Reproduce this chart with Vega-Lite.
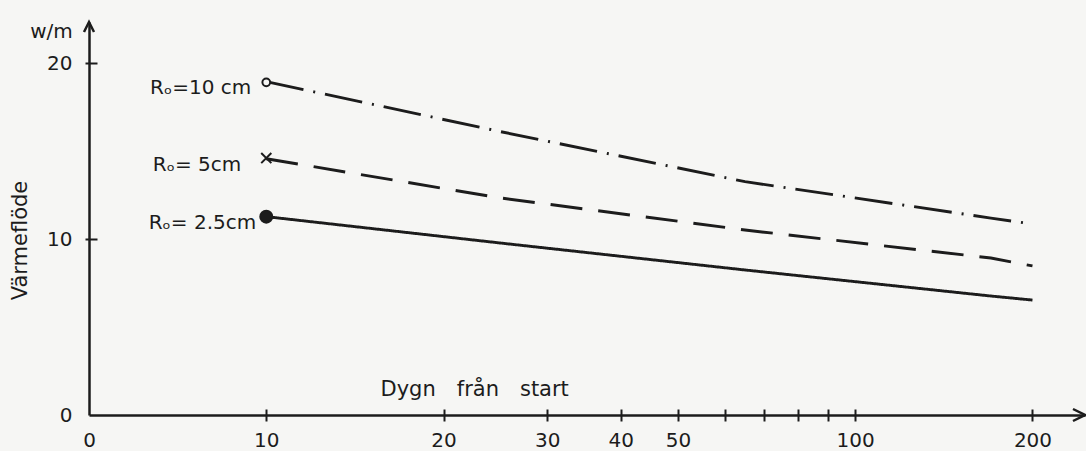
{
  "$schema": "https://vega.github.io/schema/vega-lite/v6.json",
  "width": 996,
  "height": 393,
  "autosize": {"type": "none"},
  "padding": {"left": 89, "top": 22, "right": 1, "bottom": 36},
  "background": "#f6f6f4",
  "config": {
    "view": {"stroke": null},
    "font": "DejaVu Sans",
    "axis": {
      "labelFont": "DejaVu Sans",
      "titleFont": "DejaVu Sans",
      "labelFontSize": 20,
      "titleFontSize": 20,
      "titleFontWeight": "normal",
      "labelColor": "#1c1c1c",
      "titleColor": "#1c1c1c",
      "domainColor": "#1c1c1c",
      "tickColor": "#1c1c1c",
      "grid": false,
      "labelFlush": false,
      "labelOverlap": false
    }
  },
  "datasets": {
    "curves": [
      {"serie": "10 cm", "t": 10, "v": 18.94},
      {"serie": "10 cm", "t": 25, "v": 16.1},
      {"serie": "10 cm", "t": 65, "v": 13.26},
      {"serie": "10 cm", "t": 170, "v": 11.19},
      {"serie": "10 cm", "t": 200, "v": 10.85},
      {"serie": "5 cm", "t": 10, "v": 14.56},
      {"serie": "5 cm", "t": 25, "v": 12.33},
      {"serie": "5 cm", "t": 65, "v": 10.51},
      {"serie": "5 cm", "t": 170, "v": 8.92},
      {"serie": "5 cm", "t": 200, "v": 8.47},
      {"serie": "2.5 cm", "t": 10, "v": 11.27},
      {"serie": "2.5 cm", "t": 25, "v": 9.77},
      {"serie": "2.5 cm", "t": 65, "v": 8.24},
      {"serie": "2.5 cm", "t": 170, "v": 6.76},
      {"serie": "2.5 cm", "t": 200, "v": 6.53}
    ],
    "markers": [
      {"serie": "10 cm", "t": 10, "v": 18.9, "label": "Rₒ=10 cm"},
      {"serie": "5 cm", "t": 10, "v": 14.6, "label": "Rₒ= 5cm"},
      {"serie": "2.5 cm", "t": 10, "v": 11.27, "label": "Rₒ= 2.5cm"}
    ],
    "tips": [
      {"t": 245.6, "v": 0, "dir": "x"},
      {"t": 5, "v": 22.33, "dir": "y"}
    ]
  },
  "resolve": {"axis": {"x": "independent", "y": "independent"}},
  "layer": [
    {
      "data": {"name": "curves"},
      "mark": {"type": "line", "color": "#1c1c1c", "strokeWidth": 2.9, "strokeCap": "butt"},
      "encoding": {
        "x": {
          "field": "t", "type": "quantitative",
          "scale": {"type": "log", "domain": [5, 245.6], "nice": false},
          "axis": {"orient": "bottom", "domain": true, "domainWidth": 2.5, "ticks": false, "labels": false, "title": null}
        },
        "y": {
          "field": "v", "type": "quantitative",
          "scale": {"domain": [0, 22.33], "nice": false, "zero": false},
          "axis": {
            "orient": "left", "domain": true, "domainWidth": 2.5, "ticks": false, "labels": false,
            "title": "Värmeflöde", "titleX": -69, "titleY": 218, "titleAngle": -90,
            "titleAlign": "center", "titleBaseline": "middle", "titleFontSize": 21
          }
        },
        "strokeDash": {
          "field": "serie", "type": "nominal",
          "scale": {"domain": ["10 cm", "5 cm", "2.5 cm"], "range": [[38, 10, 2, 10], [32, 16], [1, 0]]},
          "legend": null
        }
      }
    },
    {
      "data": {"name": "markers"},
      "mark": {"type": "point", "stroke": "#1c1c1c", "strokeWidth": 2, "opacity": 1},
      "encoding": {
        "x": {
          "field": "t", "type": "quantitative",
          "scale": {"type": "log", "domain": [5, 245.6], "nice": false},
          "axis": {
            "orient": "bottom", "offset": -6, "domain": false,
            "values": [5, 10, 20, 30, 40, 50, 60, 70, 80, 90, 100, 200],
            "ticks": true, "tickSize": 12, "tickWidth": 2,
            "tickOpacity": {"condition": {"test": "datum.value == 5", "value": 0}, "value": 1},
            "labelPadding": 9, "labelBaseline": "top",
            "labelExpr": "datum.value == 5 ? '0' : (datum.value > 50 && datum.value < 100 ? '' : format(datum.value, 'd'))",
            "title": "Dygn\u2003från\u2003start", "titleX": 291, "titleY": -14, "titleFontSize": 21,
            "titleAlign": "left", "titleBaseline": "alphabetic", "titleAnchor": null
          }
        },
        "y": {
          "field": "v", "type": "quantitative",
          "scale": {"domain": [0, 22.33], "nice": false, "zero": false},
          "axis": {
            "orient": "left", "offset": -8, "domain": false,
            "values": [0, 10, 20],
            "ticks": true, "tickSize": 12, "tickWidth": 2,
            "tickOpacity": {"condition": {"test": "datum.value == 0", "value": 0}, "value": 1},
            "labelPadding": 13,
            "title": "w/m", "titleX": -46, "titleY": 9, "titleAngle": 0,
            "titleAlign": "center", "titleBaseline": "middle"
          }
        },
        "shape": {
          "field": "serie", "type": "nominal",
          "scale": {"domain": ["10 cm", "5 cm", "2.5 cm"], "range": ["circle", "M-1,-1L1,1M-1,1L1,-1", "circle"]},
          "legend": null
        },
        "fill": {
          "field": "serie", "type": "nominal",
          "scale": {"domain": ["10 cm", "5 cm", "2.5 cm"], "range": ["#f6f6f4", "#f6f6f4", "#1c1c1c"]},
          "legend": null
        },
        "size": {
          "field": "serie", "type": "nominal",
          "scale": {"domain": ["10 cm", "5 cm", "2.5 cm"], "range": [60, 144, 36]},
          "legend": null
        }
      }
    },
    {
      "data": {"name": "markers"},
      "transform": [{"filter": "datum.serie == '10 cm'"}],
      "mark": {"type": "text", "align": "right", "baseline": "alphabetic", "dx": -15, "dy": 12, "fontSize": 20, "color": "#1c1c1c"},
      "encoding": {
        "x": {"field": "t", "type": "quantitative", "scale": {"type": "log", "domain": [5, 245.6], "nice": false}, "axis": null},
        "y": {"field": "v", "type": "quantitative", "scale": {"domain": [0, 22.33], "nice": false, "zero": false}, "axis": null},
        "text": {"field": "label"}
      }
    },
    {
      "data": {"name": "markers"},
      "transform": [{"filter": "datum.serie == '5 cm'"}],
      "mark": {"type": "text", "align": "right", "baseline": "alphabetic", "dx": -25, "dy": 13, "fontSize": 20, "color": "#1c1c1c"},
      "encoding": {
        "x": {"field": "t", "type": "quantitative", "scale": {"type": "log", "domain": [5, 245.6], "nice": false}, "axis": null},
        "y": {"field": "v", "type": "quantitative", "scale": {"domain": [0, 22.33], "nice": false, "zero": false}, "axis": null},
        "text": {"field": "label"}
      }
    },
    {
      "data": {"name": "markers"},
      "transform": [{"filter": "datum.serie == '2.5 cm'"}],
      "mark": {"type": "text", "align": "right", "baseline": "alphabetic", "dx": -10, "dy": 12, "fontSize": 20, "color": "#1c1c1c"},
      "encoding": {
        "x": {"field": "t", "type": "quantitative", "scale": {"type": "log", "domain": [5, 245.6], "nice": false}, "axis": null},
        "y": {"field": "v", "type": "quantitative", "scale": {"domain": [0, 22.33], "nice": false, "zero": false}, "axis": null},
        "text": {"field": "label"}
      }
    },
    {
      "data": {"name": "tips"},
      "transform": [{"filter": "datum.dir == 'x'"}],
      "mark": {"type": "point", "shape": "M-2,-1L0,0L-2,1", "filled": false, "stroke": "#1c1c1c", "strokeWidth": 2.5, "opacity": 1, "size": 144},
      "encoding": {
        "x": {"field": "t", "type": "quantitative", "scale": {"type": "log", "domain": [5, 245.6], "nice": false}, "axis": null},
        "y": {"field": "v", "type": "quantitative", "scale": {"domain": [0, 22.33], "nice": false, "zero": false}, "axis": null}
      }
    },
    {
      "data": {"name": "tips"},
      "transform": [{"filter": "datum.dir == 'y'"}],
      "mark": {"type": "point", "shape": "M-1,2L0,0L1,2", "filled": false, "stroke": "#1c1c1c", "strokeWidth": 2.5, "opacity": 1, "size": 100},
      "encoding": {
        "x": {"field": "t", "type": "quantitative", "scale": {"type": "log", "domain": [5, 245.6], "nice": false}, "axis": null},
        "y": {"field": "v", "type": "quantitative", "scale": {"domain": [0, 22.33], "nice": false, "zero": false}, "axis": null}
      }
    }
  ]
}
